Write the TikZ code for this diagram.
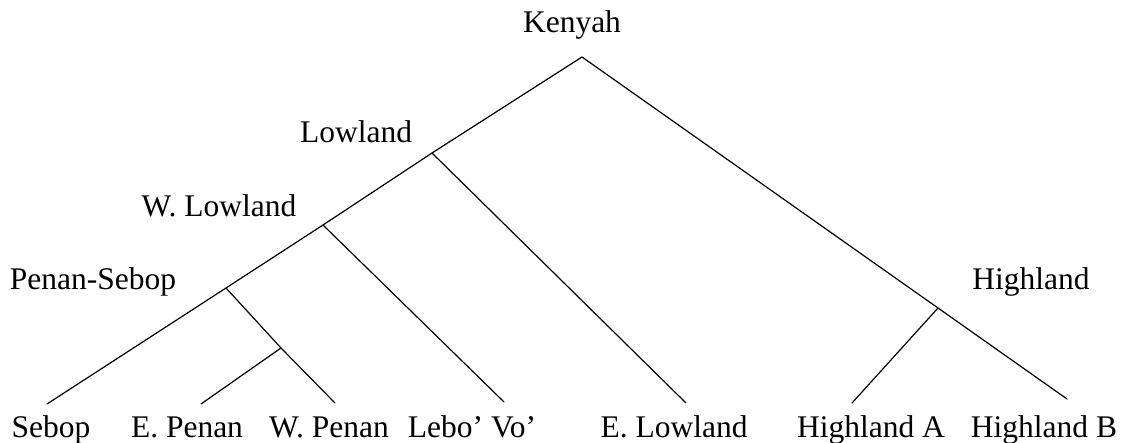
\documentclass[tikz,border=0pt]{standalone}
\usepackage{fontspec}
\setmainfont{Liberation Serif}
\begin{document}
\begin{tikzpicture}[x=1pt,y=-1pt,
  lbl/.style={anchor=base,inner sep=0pt,font=\fontsize{31.5}{36}\selectfont},
  branch/.style={line width=1.2pt,line cap=round,line join=round}]
\useasboundingbox (0,0) rectangle (1123,443);

% branching points
\coordinate (kenyah) at (582,57);
\coordinate (lowland) at (432,153);
\coordinate (wlowland) at (323,225);
\coordinate (pensebop) at (226,288);
\coordinate (penan) at (281,348);
\coordinate (highland) at (938,308);

% leaf ends
\coordinate (sebopE) at (47,404);
\coordinate (epenanE) at (201,404);
\coordinate (wpenanE) at (335,403);
\coordinate (leboE) at (504,402);
\coordinate (elowE) at (686,403);
\coordinate (hlaE) at (852,403);
\coordinate (hlbE) at (1067,399);

% group labels
\node[lbl] (tKenyah) at (572,33) {Kenyah};
\node[lbl] (tLowland) at (356,143) {Lowland};
\node[lbl] (tWLowland) at (219,217) {W. Lowland};
\node[lbl] (tPenanSebop) at (93,290) {Penan-Sebop};
\node[lbl] (tHighland) at (1031,290) {Highland};

% leaf labels
\node[lbl] (tSebop) at (51,437) {Sebop};
\node[lbl] (tEPenan) at (187,437) {E. Penan};
\node[lbl] (tWPenan) at (329,437) {W. Penan};
\node[lbl] (tLebo) at (472,437) {Lebo' Vo'};
\node[lbl] (tELowland) at (674,437) {E. Lowland};
\node[lbl] (tHighlandA) at (871,437) {Highland A};
\node[lbl] (tHighlandB) at (1044,437) {Highland B};

% tree branches
\draw[branch] (sebopE) -- (pensebop) -- (wlowland) -- (lowland) -- (kenyah) -- (highland) -- (hlbE);
\draw[branch] (lowland) -- (elowE);
\draw[branch] (wlowland) -- (leboE);
\draw[branch] (pensebop) -- (penan) -- (wpenanE);
\draw[branch] (penan) -- (epenanE);
\draw[branch] (highland) -- (hlaE);
\end{tikzpicture}
\end{document}
